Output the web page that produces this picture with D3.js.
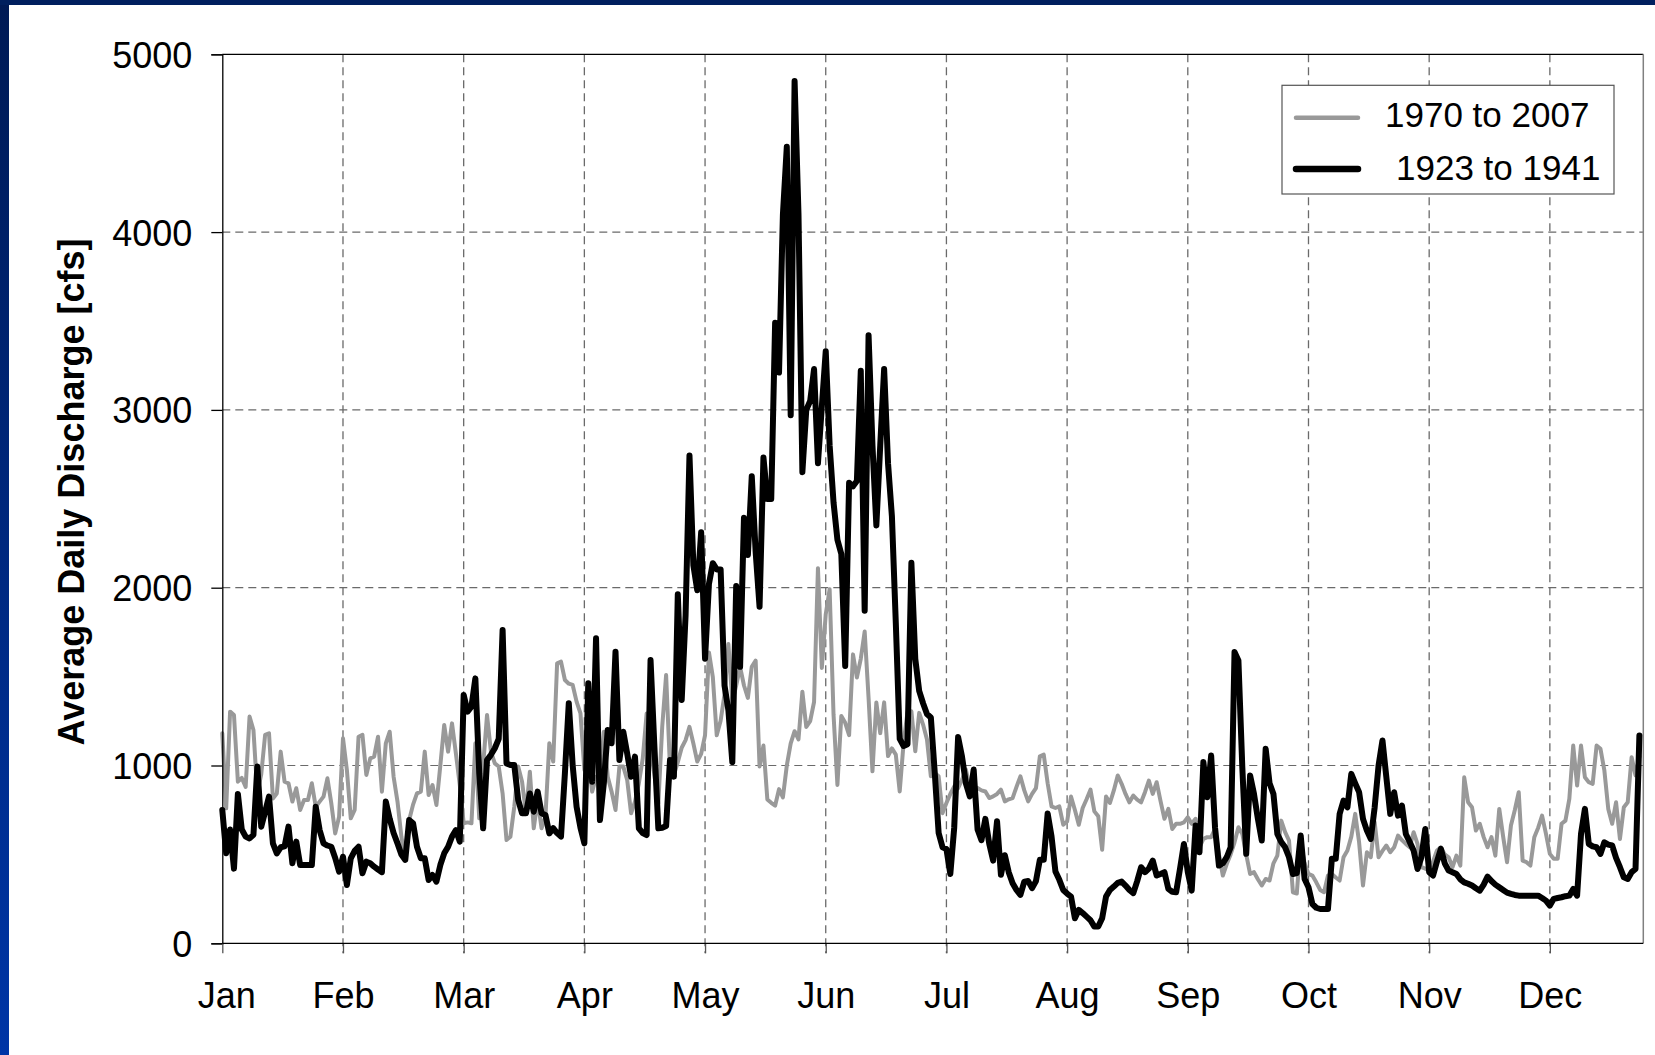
<!DOCTYPE html>
<html><head><meta charset="utf-8">
<script src="https://cdn.jsdelivr.net/npm/d3@7"></script>
<style>body{margin:0;background:#fff} svg{display:block}</style>
</head><body>
<svg id="chart" width="1655" height="1055"></svg>
<script>
const monthLabels = ["Jan","Feb","Mar","Apr","May","Jun","Jul","Aug","Sep","Oct","Nov","Dec"];
const monthTickDays = [0,31,62,93,124,155,186,217,248,279,310,341];
const yTickValues = [0,1000,2000,3000,4000,5000];
const seriesNames = ["1970 to 2007","1923 to 1941"];
const yAxisTitle = "Average Daily Discharge [cfs]";

// 1970 to 2007 average daily discharge (grey)
const flow1970to2007 = [
1181,759,1303,1284,909,930,880,1275,1200,843,
950,1172,1181,815,843,1078,909,900,797,872,
750,806,806,900,768,797,825,928,787,618,
712,1153,975,703,750,1162,1172,947,1040,1050,
1162,853,1125,1190,937,797,600,469,693,780,
843,853,1078,834,890,778,1000,1228,1078,1237,
1068,890,675,680,675,1125,703,1000,1284,1078,
1012,994,843,581,600,768,994,909,731,965,
647,806,647,712,1125,1022,1575,1584,1481,1460,
1453,1359,1293,975,1031,853,937,937,1190,937,
853,750,994,994,919,731,797,900,1040,1293,
1100,947,787,1219,1509,984,947,1019,1100,1143,
1217,1124,1022,1065,1170,1636,1497,1170,1252,1400,
1683,1357,1450,1555,1450,1380,1555,1590,995,1112,
809,790,774,867,821,1000,1124,1193,1147,1415,
1217,1250,1357,2110,1549,1851,1991,1287,891,1279,
1240,1171,1625,1495,1600,1754,1380,967,1355,1182,
1355,1053,1096,1061,854,1127,1301,1305,1080,1296,
1230,1146,939,958,939,732,789,840,883,873,
920,977,873,873,873,860,854,817,826,840,
864,798,810,817,880,939,860,798,840,873,
1052,1061,900,770,761,770,667,685,826,750,
667,761,810,864,742,714,526,826,789,860,
944,897,840,793,831,808,793,850,915,840,
906,800,700,756,643,672,672,680,709,672,
700,540,587,597,597,643,500,381,446,500,
568,653,615,500,390,400,360,325,362,353,
450,493,690,625,578,287,280,568,450,390,
381,343,300,287,381,390,370,353,484,522,
600,728,568,325,512,484,681,484,520,550,
512,540,606,580,559,540,625,559,428,420,
409,460,522,540,500,484,428,493,437,934,
793,765,634,672,597,540,597,493,756,600,
456,662,750,850,465,456,437,597,650,718,
615,503,475,475,672,690,812,1112,887,1112,
934,906,897,1112,1094,972,756,672,793,587,
765,793,1047,944,1050
];

// 1923 to 1941 average daily discharge (black)
const flow1923to1941 = [
750,506,640,420,840,640,600,590,610,994,
656,740,825,562,506,540,545,656,450,572,
440,440,440,440,768,637,562,550,543,480,
403,487,328,478,520,543,394,459,450,431,
415,400,797,700,620,562,500,469,693,675,
543,478,478,356,384,347,440,506,543,600,
637,572,1397,1303,1331,1490,956,647,1031,1060,
1097,1150,1762,1012,1003,1003,806,731,731,843,
740,853,731,722,618,647,620,600,956,1350,
1000,768,650,562,1462,909,1715,693,900,1200,
1125,1640,1031,1190,1068,937,1050,647,620,609,
1593,1100,647,650,660,1031,937,1963,1369,1846,
2744,2126,1986,2312,1601,2021,2138,2103,2103,1450,
1310,1019,2009,1555,2394,2184,2627,2200,1893,2732,
2499,2499,3490,3210,4100,4480,2970,4850,4100,2650,
3000,3050,3230,2700,3020,3330,2800,2480,2270,2190,
1560,2590,2570,2600,3220,1870,3420,2800,2350,2800,
3230,2700,2400,1800,1150,1110,1120,2140,1600,1420,
1350,1290,1270,960,620,540,530,390,650,1160,
1050,900,826,977,640,580,700,560,465,686,
385,495,400,338,300,272,347,350,310,350,
470,470,730,600,404,357,300,280,263,141,
188,170,150,130,94,94,141,263,300,319,
340,347,325,300,282,350,428,400,420,465,
381,390,400,306,290,287,420,559,400,296,
662,512,1019,822,1056,650,437,450,484,540,
1638,1591,991,503,944,840,700,578,1094,900,
840,615,570,540,484,390,395,606,362,315,
221,200,193,193,193,475,475,728,803,765,
953,900,850,700,634,587,765,1000,1141,934,
728,850,718,775,615,570,522,418,484,643,
400,381,460,531,450,409,400,390,360,343,
335,325,310,296,330,375,350,330,315,300,
285,278,272,268,268,268,268,268,268,255,
240,212,250,255,259,265,268,306,268,615,
756,559,545,540,503,568,555,550,480,428,
371,362,400,418,1169
];

const seriesData = [flow1970to2007, flow1923to1941];
const seriesColors = ["#999999", "#000000"];
const seriesWidths = [4, 6];
const legendWidths = [4.5, 6.5];

const W = 1655, H = 1055;
const FONT = "'Liberation Sans', Arial, Helvetica, sans-serif";
const svg = d3.select("#chart");

const defs = svg.append("defs");
const lg = defs.append("linearGradient").attr("id","leftGrad").attr("x1",0).attr("y1",0).attr("x2",0).attr("y2",1);
lg.append("stop").attr("offset","0%").attr("stop-color","#001a55");
lg.append("stop").attr("offset","100%").attr("stop-color","#0035a6");

svg.append("rect").attr("width",W).attr("height",H).attr("fill","#fff");
svg.append("rect").attr("x",0).attr("y",0).attr("width",9).attr("height",H).attr("fill","url(#leftGrad)");
svg.append("rect").attr("x",0).attr("y",0).attr("width",W).attr("height",5).attr("fill","#001f5e");

const plotL = 222.3, plotR = 1643.3, plotT = 54.3, plotB = 943.3;
const x = d3.scaleLinear().domain([0,365]).range([plotL,plotR]);
const y = d3.scaleLinear().domain([0,5000]).range([plotB,plotT]);

// gridlines
const grid = svg.append("g");
grid.selectAll("line.h").data(yTickValues.filter(v => v > 0 && v < 5000)).join("line")
  .attr("class","h")
  .attr("x1", plotL).attr("x2", plotR)
  .attr("y1", d => y(d)).attr("y2", d => y(d))
  .attr("stroke","#6a6a6a").attr("stroke-width",1.2).attr("stroke-dasharray","8,5");
grid.selectAll("line.v").data(monthTickDays.filter(d => d > 0)).join("line")
  .attr("class","v")
  .attr("x1", d => x(d)).attr("x2", d => x(d))
  .attr("y1", plotT).attr("y2", plotB + 10)
  .attr("stroke","#6a6a6a").attr("stroke-width",1.3).attr("stroke-dasharray","8,5");

// plot frame
svg.append("line").attr("x1",plotL).attr("x2",plotR).attr("y1",plotT).attr("y2",plotT).attr("stroke","#000").attr("stroke-width",1.3);
svg.append("line").attr("x1",plotR).attr("x2",plotR).attr("y1",plotT).attr("y2",plotB).attr("stroke","#808080").attr("stroke-width",1.5);

// series lines
const line = d3.line().x((d,i) => x(i)).y(d => y(d));
svg.append("g").selectAll("path").data(seriesData).join("path")
  .attr("d", d => line(d))
  .attr("fill","none")
  .attr("stroke", (d,i) => seriesColors[i])
  .attr("stroke-width", (d,i) => seriesWidths[i])
  .attr("stroke-linejoin","round")
  .attr("stroke-linecap","round");

// axes
const yAxis = svg.append("g").attr("transform",`translate(${plotL},0)`)
  .call(d3.axisLeft(y).tickValues(yTickValues).tickSize(11).tickPadding(19).tickFormat(d3.format("d")));
yAxis.select(".domain").attr("stroke","#000").attr("stroke-width",1.3);
yAxis.selectAll(".tick line").attr("stroke","#000").attr("stroke-width",1.3);
yAxis.selectAll(".tick text").attr("font-family",FONT).attr("font-size",36).attr("fill","#000").attr("dy","0.36em");

const xAxis = svg.append("g").attr("transform",`translate(0,${plotB})`)
  .call(d3.axisBottom(x).tickValues(monthTickDays).tickSize(10).tickPadding(29)
    .tickFormat((d,i) => monthLabels[i]));
xAxis.select(".domain").remove();
xAxis.selectAll(".tick line").attr("stroke","#555").attr("stroke-width",1.3);
xAxis.selectAll(".tick text").attr("font-family",FONT).attr("font-size",36).attr("fill","#000")
  .attr("dx",(d,i) => i === 0 ? 4 : 0);
svg.append("line").attr("x1",plotL).attr("x2",plotR).attr("y1",plotB).attr("y2",plotB).attr("stroke","#000").attr("stroke-width",1.3);

// y title
svg.append("text")
  .attr("transform","translate(84,492) rotate(-90)")
  .attr("text-anchor","middle")
  .attr("font-family",FONT).attr("font-weight","bold").attr("font-size",36)
  .attr("fill","#000")
  .text(yAxisTitle);

// legend
const legend = svg.append("g");
legend.append("rect").attr("x",1282).attr("y",85.3).attr("width",332).attr("height",108.7)
  .attr("fill","#fff").attr("stroke","#555").attr("stroke-width",1.2);
const legendRowsY = [117.7, 169];
const legendTextBase = [126.5, 180];
const legendTextX = [1385, 1396];
const li = legend.selectAll("g.item").data(seriesNames).join("g").attr("class","item");
li.append("line")
  .attr("x1",1296).attr("x2",1358)
  .attr("y1",(d,i) => legendRowsY[i]).attr("y2",(d,i) => legendRowsY[i])
  .attr("stroke",(d,i) => seriesColors[i]).attr("stroke-width",(d,i) => legendWidths[i])
  .attr("stroke-linecap","round");
li.append("text")
  .attr("x",(d,i) => legendTextX[i]).attr("y",(d,i) => legendTextBase[i])
  .attr("font-family",FONT).attr("font-size",35).attr("fill","#000")
  .text(d => d);
</script>
</body></html>
